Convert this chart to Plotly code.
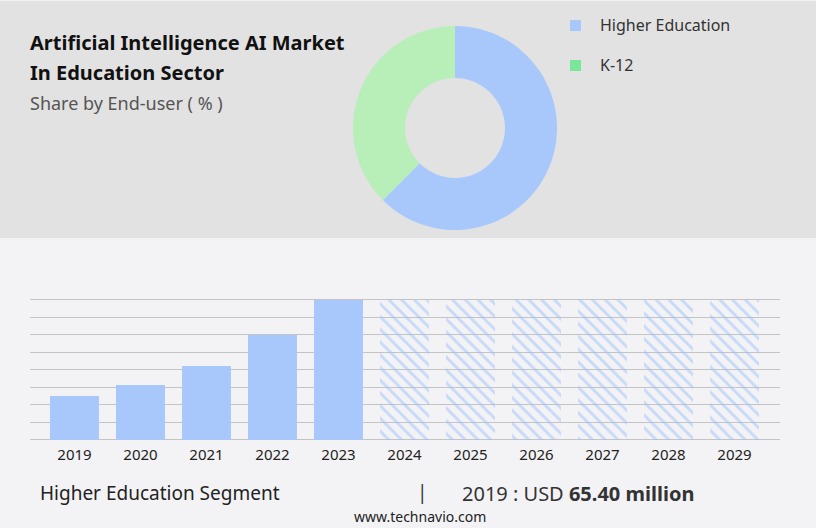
import plotly.graph_objects as go

# Data
segments = ["Higher Education", "K-12"]
shares = [62.5, 37.5]
pie_colors = ["#a8c8fc", "#b8eeb8"]
legend_colors = ["#a8c8fc", "#7ae69a"]

years = ["2019", "2020", "2021", "2022", "2023", "2024", "2025", "2026", "2027", "2028", "2029"]
hist_values = [65.4, 81.7, 110.0, 156.0, 208.0]
forecast_values = [208.0, 208.0, 208.0, 208.0, 208.0, 208.0]

W, H = 816, 528
BAR = "#a8c8fc"
YMAX = 212.0

fig = go.Figure()

# Pie
fig.add_trace(go.Pie(
    labels=segments, values=shares, hole=0.49, sort=False, direction="clockwise",
    rotation=0, marker=dict(colors=pie_colors, line=dict(width=0)),
    textinfo="none", hoverinfo="skip", showlegend=False,
    domain=dict(x=[353 / W, 557 / W], y=[1 - 230 / H, 1 - 26 / H]),
))

xs_hist = list(range(len(hist_values)))
xs_fc = list(range(len(hist_values), len(years)))

fig.add_trace(go.Bar(
    x=xs_hist, y=hist_values, width=0.742, marker=dict(color=BAR, line=dict(width=0)),
    showlegend=False, hoverinfo="skip",
))
fig.add_trace(go.Bar(
    x=xs_fc, y=forecast_values, width=0.742,
    marker=dict(color="rgba(0,0,0,0)", line=dict(width=0),
                pattern=dict(shape="\\", fgcolor="#9cc0fb", bgcolor="rgba(0,0,0,0)", size=9, solidity=0.32)),
    showlegend=False, hoverinfo="skip",
))

top_px = 440 - 140 * YMAX / 208.0

fig.update_layout(
    width=W, height=H, margin=dict(l=0, r=0, t=0, b=0),
    paper_bgcolor="#f3f3f5", plot_bgcolor="rgba(0,0,0,0)",
    barmode="overlay",
    xaxis=dict(domain=[30 / W, 780 / W], range=[-0.674, 10.689],
               tickvals=list(range(len(years))), ticktext=years,
               showgrid=False, zeroline=False, showline=False, ticks="",
               ticklabelstandoff=4,
               tickfont=dict(family="Noto Sans", size=15, color="#222"), fixedrange=True),
    yaxis=dict(domain=[1 - 440 / H, 1 - top_px / H], range=[0, YMAX], tick0=0, dtick=26,
               showgrid=True, gridcolor="#c4c4c4", gridwidth=1, zeroline=True,
               zerolinecolor="#c4c4c4", zerolinewidth=1, showticklabels=False, ticks="",
               fixedrange=True),
    shapes=[
        dict(type="rect", xref="paper", yref="paper", x0=0, x1=1, y0=1 - 238 / H, y1=1,
             fillcolor="#e2e2e2", line=dict(width=0), layer="below"),
        dict(type="line", xref="paper", yref="paper", x0=0, x1=1, y0=1 - 0.5 / H, y1=1 - 0.5 / H,
             line=dict(color="#f0f0f0", width=1)),
        dict(type="rect", xref="paper", yref="paper", x0=570 / W, x1=581 / W,
             y0=1 - 31 / H, y1=1 - 20 / H, fillcolor=legend_colors[0], line=dict(width=0)),
        dict(type="rect", xref="paper", yref="paper", x0=570 / W, x1=581 / W,
             y0=1 - 71 / H, y1=1 - 60 / H, fillcolor=legend_colors[1], line=dict(width=0)),
    ],
)

def ann(text, x, y, size, color, family="Noto Sans", xanchor="left", bold=False):
    fig.add_annotation(text=f"<b>{text}</b>" if bold else text, xref="paper", yref="paper",
                       x=x / W, y=1 - y / H, xanchor=xanchor, yanchor="middle",
                       showarrow=False, font=dict(family=family, size=size, color=color))

ann("Artificial Intelligence AI Market", 28, 43, 20, "#111", bold=True)
ann("In Education Sector", 28, 73, 20, "#111", bold=True)
ann("Share by End-user ( % )", 28, 103, 18, "#555")
ann(segments[0], 598, 25, 16, "#333")
ann(segments[1], 598, 65, 16, "#333")
ann("Higher Education Segment", 38, 493, 19, "#222")
ann("|", 422, 492, 19, "#333", xanchor="center")
ann("2019 : USD <b>65.40 million</b>", 460, 493, 20, "#333")
ann("www.technavio.com", 420, 516, 14, "#222", xanchor="center")

fig.write_html("out.html", config={"displayModeBar": False},
               post_script="document.body.style.margin='0';document.body.style.padding='0';")
